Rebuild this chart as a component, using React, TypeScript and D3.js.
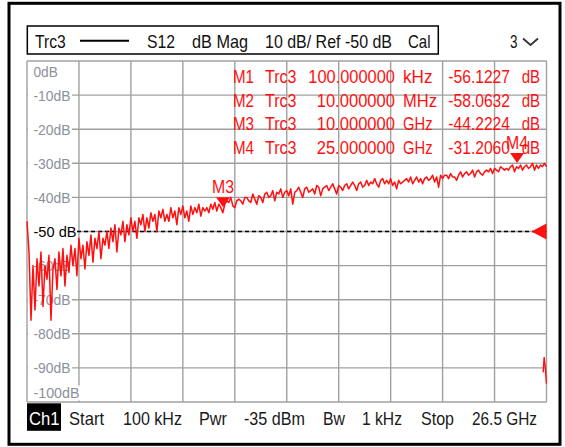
import React from "react";
import * as d3 from "d3";

// ---------- data ----------
const START_HZ = 100e3;
const STOP_HZ = 26.5e9;
const REF_DB = -50;

// S12 trace (dB), uniform sweep points from Start to Stop
const traceDb = [
  -47, -56, -76, -60, -73, -58, -66, -56, -72, -60,
  -64, -57, -76, -61, -58, -67, -56, -63, -55, -66,
  -57, -62, -54, -60, -55, -63, -52, -58, -54, -61,
  -53, -57, -51, -59, -52, -55, -50, -58, -52, -54,
  -50, -55, -49, -53, -48, -56, -49, -51, -47, -53,
  -48, -51, -46, -50, -47, -52, -46, -48, -45, -50,
  -46, -49, -44.5, -47, -45, -50, -44, -46, -43.5, -47,
  -45, -47, -43, -46, -44, -48, -43, -45, -42.5, -46,
  -44, -47, -42.5, -45, -43, -44.5, -42, -45.5, -43, -44,
  -43, -44.5, -42, -43.5, -41.5, -44, -42, -43, -44.5, -42,
  -41, -41.5, -40, -42.5, -43, -41, -40.5, -41, -42, -40,
  -40, -41, -41.5, -39, -40.5, -42, -39.5, -40, -41.5, -39,
  -38.5, -40, -39.5, -38, -41, -38.5, -39, -37.5, -40, -38.5,
  -38, -39.5, -37.5, -42, -38.5, -38, -37, -38.5, -40, -37.5,
  -37, -38.5, -38, -37.5, -39, -36.5, -37, -39.5, -37.5, -37,
  -36.5, -38, -37, -36, -37.5, -39, -36.5, -37, -38, -36.5,
  -36, -37.5, -36.5, -35.5, -36.5, -38, -36, -35.5, -37, -36.5,
  -35, -36.5, -35.5, -36, -34.5, -36, -37, -35, -34.5, -36,
  -35, -36, -34.5, -36.5, -35.5, -37.5, -35, -36, -35.5, -35,
  -34.5, -35.5, -34, -36, -35, -34, -35.5, -34.5, -36, -34.5,
  -34, -35, -34.5, -33.5, -35.5, -34, -37, -33.5, -34.5, -33.5,
  -33.5, -34.5, -33, -34, -34, -35, -33.5, -32.5, -34, -33,
  -32.5, -33.5, -33, -32, -34, -32.5, -32, -33, -33.5, -32.5,
  -32, -32.5, -31.5, -33, -31.5, -32, -32.5, -31, -31.5, -32,
  -31.5, -32, -31, -30.5, -32.5, -31, -31.5, -30.5, -32, -31,
  -30.5, -31.5, -31, -30, -32, -30.5, -31.5, -30.5, -31, -30, -31,
];

// small trace fragment visible at the lower right edge
const edgeFreqHz = [26.33e9, 26.38e9, 26.44e9, 26.47e9, 26.5e9];
const edgeDb = [-91.3, -86.8, -90, -92.5, -94.6];

const yTickDb = [0, -10, -20, -30, -40, -50, -60, -70, -80, -90, -100];
const yTickLabels = ["0dB", "-10dB", "-20dB", "-30dB", "-40dB", "-50 dB", "-60dB", "-70dB", "-80dB", "-90dB", "-100dB"];

const markerNames = ["M1", "M2", "M3", "M4"];
const markerTrace = ["Trc3", "Trc3", "Trc3", "Trc3"];
const markerFreqText = ["100.000000", "10.000000", "10.000000", "25.000000"];
const markerUnits = ["kHz", "MHz", "GHz", "GHz"];
const markerFreqHz = [100e3, 10e6, 10e9, 25e9];
const markerDb = [-56.1227, -58.0632, -44.2224, -31.206];
const markerVisible = [false, false, true, true];

const headerTexts = ["Trc3", "S12", "dB Mag", "10 dB/ Ref -50 dB", "Cal"];
const footerTexts = ["Start", "100 kHz", "Pwr", "-35 dBm", "Bw", "1 kHz", "Stop", "26.5 GHz"];

// ---------- layout ----------
const W = 565;
const H = 447;
const PL = 27;
const PR = 546.5;
const PT = 61;
const PB = 402;
const FONT = "'Liberation Sans Narrow', 'Liberation Sans', Arial, sans-serif";
const RED = "#ff1010";
const GRID = "#a0a0a0";

const headerX = [35, 147, 192, 265, 408];
const headerW = [30.7, 28, 56, 127, 22.5];
const footerX = [69, 123, 199, 244, 323, 362, 421, 472];
const footerW = [35, 59, 28, 61, 22, 40, 33, 65];
const rowBase = [83.3, 106.8, 130.3, 153.8];

export default function App() {
  const x = d3.scaleLinear().domain([START_HZ, STOP_HZ]).range([PL, PR]);
  const y = d3.scaleLinear().domain([-100, 0]).range([PB, PT]);

  const n = traceDb.length;
  const traceFreq = traceDb.map((_, i) => START_HZ + (i * (STOP_HZ - START_HZ)) / (n - 1));
  const line = d3
    .line<number>()
    .x((_, i) => x(traceFreq[i]))
    .y((d) => y(d));
  const edgeLine = d3
    .line<number>()
    .x((_, i) => x(edgeFreqHz[i]))
    .y((d) => y(d));

  const vGrid = d3.range(11).map((k) => START_HZ + (k * (STOP_HZ - START_HZ)) / 10);

  const labelW = (s: string) => (s === "0dB" ? 24.3 : s === "-100dB" ? 46 : s === "-50 dB" ? 43 : 37);
  const labelCy = (v: number) => (v === 0 ? y(v) + 11 : v === -100 ? y(v) - 9 : y(v));

  return (
    <svg
      width={W}
      height={H}
      style={{ position: "absolute", left: 0, top: 0, background: "#fff" }}
      fontFamily={FONT}
    >
      <defs>
        <clipPath id="plotClip">
          <rect x={PL - 3} y={PT} width={PR - PL + 4} height={PB - PT} />
        </clipPath>
      </defs>
      <rect x={0} y={0} width={W} height={H} fill="#fff" />
      {/* outer frame */}
      <rect x={9} y={3.3} width={551} height={441} fill="none" stroke="#000" strokeWidth={3} />

      {/* header */}
      <rect x={27.3} y={26} width={411} height={28} fill="none" stroke="#000" strokeWidth={1.5} />
      {headerTexts.map((t, i) => (
        <text key={t} x={headerX[i]} y={47.5} fontSize={19} fill="#111" textLength={headerW[i]} lengthAdjust="spacingAndGlyphs">
          {t}
        </text>
      ))}
      <line x1={80} x2={129} y1={40.7} y2={40.7} stroke="#000" strokeWidth={2} />
      <text x={510} y={47.5} fontSize={19} fill="#111" textLength={7.5} lengthAdjust="spacingAndGlyphs">
        3
      </text>
      <polyline points="523,38.5 530.5,45 538,38.5" fill="none" stroke="#333" strokeWidth={1.8} />

      {/* grid */}
      {vGrid.map((f, k) => (
        <line key={"v" + k} x1={x(f)} x2={x(f)} y1={PT} y2={PB} stroke={GRID} strokeWidth={1.4} />
      ))}
      {yTickDb.map((v) => (
        <line key={"h" + v} x1={PL} x2={PR} y1={y(v)} y2={y(v)} stroke={GRID} strokeWidth={1.4} />
      ))}

      {/* y labels */}
      {yTickDb.map((v, i) => {
        const s = yTickLabels[i];
        const cy = labelCy(v);
        const w = labelW(s);
        const isRef = v === REF_DB;
        return (
          <g key={"l" + v}>
            <rect x={PL + 1} y={cy - 7.5} width={34 + w - PL} height={15} fill="#fff" />
            <text
              x={33.5}
              y={cy + 5.4}
              fontSize={15.5}
              fill={isRef ? "#000" : "#8c9099"}
              textLength={w}
              lengthAdjust="spacingAndGlyphs"
            >
              {s}
            </text>
          </g>
        );
      })}

      {/* reference line */}
      <line x1={77} x2={PR} y1={y(REF_DB)} y2={y(REF_DB)} stroke="#000" strokeWidth={1.4} strokeDasharray="4 3" />

      {/* marker table */}
      {markerNames.map((m, i) => (
        <g key={"mt" + m} fill={RED} fontSize={18.5}>
          <text x={233} y={rowBase[i]} textLength={21} lengthAdjust="spacingAndGlyphs">
            {m}
          </text>
          <text x={265} y={rowBase[i]} textLength={31.5} lengthAdjust="spacingAndGlyphs">
            {markerTrace[i]}
          </text>
          <text
            x={395}
            y={rowBase[i]}
            textAnchor="end"
            textLength={markerFreqText[i].length === 10 ? 86.7 : 78.3}
            lengthAdjust="spacingAndGlyphs"
          >
            {markerFreqText[i]}
          </text>
          <text x={403} y={rowBase[i]} textLength={markerUnits[i] === "MHz" ? 34 : 29.5} lengthAdjust="spacingAndGlyphs">
            {markerUnits[i]}
          </text>
          <text x={448.3} y={rowBase[i]} textLength={61.7} lengthAdjust="spacingAndGlyphs">
            {markerDb[i].toFixed(4)}
          </text>
          <text x={521.7} y={rowBase[i]} textLength={18.3} lengthAdjust="spacingAndGlyphs">
            dB
          </text>
        </g>
      ))}

      {/* trace */}
      <g clipPath="url(#plotClip)">
        <path d={line(traceDb) || ""} fill="none" stroke={RED} strokeWidth={1.5} strokeLinejoin="round" />
        <path d={edgeLine(edgeDb) || ""} fill="none" stroke={RED} strokeWidth={1.4} />
      </g>

      {/* reference level arrow */}
      <polygon
        points={`${PR - 15},${y(REF_DB)} ${PR},${y(REF_DB) - 8} ${PR},${y(REF_DB) + 8}`}
        fill={RED}
      />

      {/* markers on trace */}
      {markerNames.map((m, i) => {
        if (!markerVisible[i]) return null;
        const mx = x(markerFreqHz[i]);
        const tip = y(markerDb[i]) - 4.5;
        const top = tip - 10;
        return (
          <g key={"mk" + m}>
            <polygon points={`${mx - 7},${top} ${mx + 7},${top} ${mx},${tip}`} fill={RED} />
            <text
              x={mx}
              y={top - 4}
              textAnchor="middle"
              fontSize={18.5}
              fill={RED}
              textLength={22}
              lengthAdjust="spacingAndGlyphs"
            >
              {m}
            </text>
          </g>
        );
      })}

      {/* footer */}
      <rect x={27} y={403.3} width={34} height={27.5} fill="#000" />
      <text x={29} y={425} fontSize={19} fill="#fff" textLength={30.5} lengthAdjust="spacingAndGlyphs">
        Ch1
      </text>
      {footerTexts.map((t, i) => (
        <text key={"f" + i} x={footerX[i]} y={425} fontSize={19} fill="#1a1a1a" textLength={footerW[i]} lengthAdjust="spacingAndGlyphs">
          {t}
        </text>
      ))}
    </svg>
  );
}
